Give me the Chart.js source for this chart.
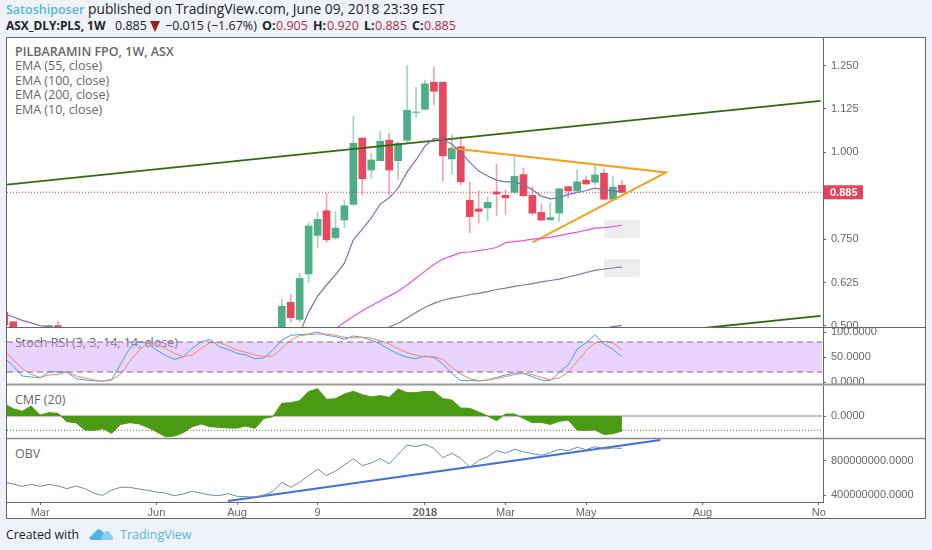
<!DOCTYPE html>
<html>
<head>
<meta charset="utf-8">
<title>PILBARAMIN FPO, 1W, ASX</title>
<script src="https://cdn.jsdelivr.net/npm/chart.js@4"></script>
<style>
  html, body { margin: 0; padding: 0; width: 932px; height: 550px; overflow: hidden; background: #eff3f9; }
  body { font-family: "Open Sans", sans-serif; color: #222; position: relative; }
  .abs { position: absolute; white-space: nowrap; }
  #frame { position: absolute; left: 6px; top: 37px; width: 918px; height: 480px; background: #fff; border: 1px solid #666; }
  #chart { position: absolute; left: 7px; top: 38px; }
  .pane { font-size: 12.5px; color: #666; line-height: 14px; left: 15px; }
  .hd { top: 17px; font-size: 12.5px; line-height: 17px; }
  .num { color: #a8303c; }
  b { font-weight: 700; }
</style>
</head>
<body>
<div class="abs" style="left:6px;top:1px;font-size:12.5px;line-height:18px;color:#55b4e0;font-weight:600">Satoshiposer</div>
<div class="abs" style="left:88px;top:0px;font-size:13.8px;line-height:18px">published on TradingView.com, June 09, 2018 23:39 EST</div>
<div class="abs hd" style="left:6px;font-size:11.9px"><b>ASX_DLY:PLS, 1W</b></div>
<div class="abs hd" style="left:115px">0.885</div>
<div class="abs" style="left:150px;top:21px;width:0;height:0;border-left:5.5px solid transparent;border-right:5.5px solid transparent;border-top:11px solid #a01c1c"></div>
<div class="abs hd" style="left:165px">&#8722;0.015 (&#8722;1.67%)</div>
<div class="abs hd" style="left:262px"><b>O:</b></div>
<div class="abs hd num" style="left:276px">0.905</div>
<div class="abs hd" style="left:313px"><b>H:</b></div>
<div class="abs hd num" style="left:327px">0.920</div>
<div class="abs hd" style="left:364px"><b>L:</b></div>
<div class="abs hd num" style="left:375px">0.885</div>
<div class="abs hd" style="left:412px"><b>C:</b></div>
<div class="abs hd num" style="left:424px">0.885</div>
<div id="frame"></div>
<div class="abs pane" style="top:45px;font-weight:600">PILBARAMIN FPO, 1W, ASX</div>
<div class="abs pane" style="top:59px">EMA (55, close)</div>
<div class="abs pane" style="top:74px">EMA (100, close)</div>
<div class="abs pane" style="top:88px">EMA (200, close)</div>
<div class="abs pane" style="top:103px">EMA (10, close)</div>
<div class="abs pane" style="top:336px">Stoch RSI (3, 3, 14, 14, close)</div>
<div class="abs pane" style="top:393px">CMF (20)</div>
<div class="abs pane" style="top:447px">OBV</div>
<canvas id="chart" width="918" height="480"></canvas>
<div class="abs" style="left:6px;top:526px;font-size:12.3px;line-height:18px">Created with</div>
<svg class="abs" style="left:89px;top:527px" width="25" height="15" viewBox="0 0 25 15">
  <path d="M0 11 L7 4 Q9 1 12 3 L17 8 L14 13 L3 13 Q1 13 0 11Z" fill="#4fb4e4"/>
  <path d="M12 10 L16 5 Q18 3 20 5 L24 10 Q25 13 22 13 L13 13Z" fill="#86d2f2"/>
</svg>
<div class="abs" style="left:120px;top:526px;font-size:12.5px;line-height:18px;color:#55b4e0">TradingView</div>

<script>
// weeks are counted from the first bar of 2018
const xMin = -46.7;
const xMax = 44.47;
const xTickWeeks = [-43, -30, -21, -12, 0, 9, 18, 31, 44];
const xTickLabels = ['Mar', 'Jun', 'Aug', '9', '2018', 'Mar', 'May', 'Aug', 'No'];

const priceTicks = [1.25, 1.125, 1, 0.75, 0.625, 0.5];
const stochTicks = [100, 50, 0];
const cmfTicks = [0];
const obvTicks = [800, 400]; // millions

// only the bars that are visible above the bottom of the price pane
const candleWeeks = [-47, -46, -42, -41, -16, -15, -14, -13, -12, -11, -10, -9, -8, -7, -6, -5, -4, -3, -2, -1, 0, 1, 2, 3, 4, 5, 6, 7, 8, 9, 10, 11, 12, 13, 14, 15, 16, 17, 18, 19, 20, 21, 22];
const opens = [.540, .512, .460, .501, .480, .568, .519, .650, .761, .832, .754, .805, .850, 1.041, .949, .976, 1.035, .976, 1.035, 1.115, 1.124, 1.202, 1.202, .981, 1.016, .862, .837, .840, .886, .876, .885, .936, .876, .827, .806, .825, .901, .889, .920, .914, .940, .865, .905];
const highs = [.560, .512, .503, .514, .578, .591, .652, .797, .828, .882, .828, .863, 1.105, 1.041, .997, 1.061, 1.055, 1.031, 1.250, 1.187, 1.208, 1.247, 1.202, 1.052, 1.045, .915, .889, .872, .966, .892, .987, .955, .901, .851, .856, .896, .903, .949, .930, .963, .951, .932, .920];
const lows = [.490, .450, .450, .460, .470, .512, .511, .625, .725, .740, .750, .783, .848, .877, .925, .976, .877, .922, 1.027, 1.101, 1.122, 1.137, .917, .937, .906, .769, .796, .803, .817, .822, .882, .872, .819, .803, .803, .800, .868, .887, .906, .906, .863, .863, .885];
const closes = [.503, .470, .501, .470, .557, .524, .637, .788, .807, .748, .782, .846, 1.026, .924, .978, 1.032, .949, 1.026, 1.121, 1.116, 1.197, 1.176, .990, 1.012, .915, .815, .830, .856, .880, .869, .931, .875, .825, .805, .812, .895, .889, .915, .909, .935, .865, .900, .885];

const ema10Weeks = [-47, -46, -45, -44, -43, -42, -41, -14, -13, -12, -11, -10, -9, -8, -7, -6, -5, -4, -3, -2, -1, 0, 1, 2, 3, 4, 5, 6, 7, 8, 9, 10, 11, 12, 13, 14, 15, 16, 17, 18, 19, 20, 21, 22];
const ema10 = [.536, .526, .516, .509, .501, .498, .490, .480, .540, .586, .618, .647, .681, .748, .779, .811, .851, .869, .897, .943, .978, 1.018, 1.040, 1.036, 1.024, 1.000, .972, .946, .932, .920, .915, .915, .907, .892, .874, .866, .869, .879, .884, .890, .897, .892, .889, .886];
const ema55Start = -10;
const ema55 = [.492, .511, .527, .544, .558, .572, .586, .600, .618, .638, .658, .677, .693, .702, .711, .713, .717, .721, .726, .740, .743, .746, .750, .752, .755, .760, .765, .770, .776, .782, .783, .786, .790];
const ema100Start = -5;
const ema100 = [.488, .497, .508, .523, .539, .554, .565, .574, .580, .585, .590, .594, .599, .605, .609, .614, .618, .622, .627, .631, .635, .641, .647, .654, .660, .664, .667, .670];
const ema200Start = 20;
const ema200 = [.492, .498, .502];

const lastPrice = .885;
const upperChannelWeeks = [-46.7, 44.2];
const upperChannel = [.907, 1.148];
const lowerChannelWeeks = [30.36, 44.2];
const lowerChannel = [.492, .529];
const triangleWeeks = [3, 26.93, 12];
const triangle = [1.012, .942, .741];
const boxWeeks = [20, 24];
const boxHighs = [.805, .692];
const boxLows = [.754, .640];

const oscStart = -47;
const stochK = [48.7, 32, 12, 10, 8, 20.7, 20, 20, 6.7, 4, 2.7, 1.3, 5.3, 36, 67.3, 81.3, 77.3, 64, 53.3, 45.3, 50.7, 67.3, 80, 85.3, 70.7, 65.3, 57.3, 54, 46.7, 48, 64, 84, 93.3, 94.7, 96, 100,
  93.3, 90.7, 85.3, 92, 89.3, 84, 76, 65.3, 56, 49.3, 46.7, 52, 49.3, 36, 17.3, 2.7, 3.3, 2, 4, 9.3, 14, 18, 17.3, 10.7, 4, 2.7, 18.7, 34, 65.3, 78.7, 94.7, 76, 65.3, 50.7];
const stochD = [64, 44, 27.3, 15.3, 9.3, 14, 15.3, 20, 12, 8, 4, 2, 4, 16, 40.7, 62.7, 77.3, 76, 67.3, 57.3, 50.7, 54, 67.3, 78.7, 78.7, 72, 64, 59.3, 54, 50.7, 52, 67.3, 84, 92.7, 94.7, 96,
  96, 93.3, 89.3, 88, 89.3, 88, 82.7, 76, 66.7, 58.7, 53.3, 50.7, 50.7, 45.3, 29.3, 16, 6.7, 2.7, 4, 6.7, 10.7, 14.7, 17.3, 14.7, 9.3, 4.7, 8, 20, 40.7, 62.7, 78.7, 81.3, 78.7, 64];
const cmf = [.126, .077, .049, .105, .011, .035, .028, -.060, -.070, -.147, -.151, -.133, -.182, -.088, -.070, -.081, -.119, -.165, -.217, -.210, -.175, -.112, -.084, -.112, -.119, -.126, -.126, -.105, -.130, -.025, -.007, .133, .140, .161, .256, .287,
  .175, .182, .231, .259, .224, .200, .214, .196, .284, .245, .245, .259, .256, .182, .168, .084, .081, .042, 0, -.049, .021, .021, -.025, -.070, -.067, -.088, -.056, -.042, -.147, -.151, -.147, -.193, -.186, -.158];
const obv = [552, 528, 501, 524, 501, 524, 505, 474, 505, 474, 420, 396, 458, 490, 490, 470, 455, 435, 423, 392, 412, 443, 420, 400, 392, 416, 385, 381, 373, 400, 439, 548, 490, 548, 626, 703,
  626, 680, 750, 824, 742, 773, 824, 765, 874, 983, 964, 991, 944, 835, 886, 828, 723, 804, 847, 917, 886, 933, 905, 882, 863, 894, 933, 917, 956, 929, 964, 936, 948, 944];
const obvTrendWeeks = [-22, 26.3];
const obvTrend = [330, 1041];
const stochBand = [20, 80];
const cmfLevel = -.15;

const upColor = '#4caf87';
const downColor = '#e8475c';

const series = (start, values) => values.map((y, i) => ({ x: start + i, y }));
const pairs = (xs, ys) => xs.map((x, i) => ({ x, y: ys[i] }));

function line(label, data, yAxisID, color, width, extra) {
  return Object.assign({
    type: 'line', label, data, yAxisID, borderColor: color, borderWidth: width,
    pointRadius: 0, tension: 0, fill: false, clip: 0, order: 2
  }, extra || {});
}

function isUp(i) { return closes[i] >= opens[i]; }

const wicks = {
  type: 'bar', label: 'wick', yAxisID: 'price', barThickness: 1, grouped: false, clip: 0, order: 5,
  data: candleWeeks.map((x, i) => ({ x, y: [lows[i], highs[i]] })),
  backgroundColor: candleWeeks.map((x, i) => isUp(i) ? '#9fd6bc' : '#f2a3ae')
};
const bodies = {
  type: 'bar', label: 'body', yAxisID: 'price', barThickness: 7, grouped: false, clip: 0, order: 4,
  data: candleWeeks.map((x, i) => ({ x, y: [opens[i], closes[i]] })),
  backgroundColor: candleWeeks.map((x, i) => isUp(i) ? upColor : downColor)
};

const datasets = [
  wicks, bodies,
  line('Last', pairs([xMin, xMax], [lastPrice, lastPrice]), 'price', '#e0304c', 1, { borderDash: [1, 2], order: 3 }),
  line('EMA 10', pairs(ema10Weeks, ema10), 'price', '#7d70b8', 1.2),
  line('EMA 55', series(ema55Start, ema55), 'price', '#e84fe8', 1.2),
  line('EMA 100', series(ema100Start, ema100), 'price', '#8272b4', 1.2),
  line('EMA 200', series(ema200Start, ema200), 'price', '#7d70b8', 1.2),
  line('Upper channel', pairs(upperChannelWeeks, upperChannel), 'price', '#2f6a12', 1.8),
  line('Lower channel', pairs(lowerChannelWeeks, lowerChannel), 'price', '#2f6a12', 1.8),
  line('Triangle', pairs(triangleWeeks, triangle), 'price', '#f5a11f', 2),

  line('Stoch high', pairs([xMin, xMax - 0.1], [stochBand[1], stochBand[1]]), 'stoch', '#7b6a8c', 1, { borderDash: [6, 4] }),
  line('Stoch low', pairs([xMin, xMax - 0.1], [stochBand[0], stochBand[0]]), 'stoch', '#7b6a8c', 1, { borderDash: [6, 4] }),
  line('%D', series(oscStart, stochD), 'stoch', '#ec8a5c', 1),
  line('%K', series(oscStart, stochK), 'stoch', '#4a9bee', 1),

  line('CMF', series(oscStart, cmf), 'cmf', '#4a9a14', 1, { fill: { value: 0 }, backgroundColor: '#4a9a14' }),
  line('CMF zero', pairs([xMin, xMax - 0.1], [0, 0]), 'cmf', '#8a8a8a', 1.2),
  line('CMF level', pairs([xMin, xMax - 0.1], [cmfLevel, cmfLevel]), 'cmf', '#3a8a1a', 1, { borderDash: [1, 2] }),

  line('OBV', series(oscStart, obv), 'obv', '#7488a8', 1),
  line('OBV trend', pairs(obvTrendWeeks, obvTrend), 'obv', '#3d72d8', 2)
];

// grey note boxes and the lilac stoch band sit behind the marks
const backdrops = {
  id: 'backdrops',
  beforeDatasetsDraw(chart) {
    const { ctx, scales } = chart;
    ctx.save();
    ctx.fillStyle = '#ededed';
    boxHighs.forEach((hi, i) => {
      const left = scales.x.getPixelForValue(boxWeeks[0]);
      const right = scales.x.getPixelForValue(boxWeeks[1]);
      const top = scales.price.getPixelForValue(hi);
      ctx.fillRect(left, top, right - left, scales.price.getPixelForValue(boxLows[i]) - top);
    });
    ctx.fillStyle = 'rgba(205,160,250,0.45)';
    const bandTop = scales.stoch.getPixelForValue(stochBand[1]);
    ctx.fillRect(scales.x.left, bandTop, scales.x.width - 1, scales.stoch.getPixelForValue(stochBand[0]) - bandTop);
    ctx.restore();
  }
};

// pane separators and the last price tag
const overlays = {
  id: 'overlays',
  afterDraw(chart) {
    const { ctx, scales, width } = chart;
    ctx.save();
    [['price', '#666', 1], ['stoch', '#999', 2], ['cmf', '#888', 1.5]].forEach(([id, color, w]) => {
      ctx.strokeStyle = color;
      ctx.lineWidth = w;
      ctx.beginPath();
      ctx.moveTo(0, Math.round(scales[id].bottom) - 0.5);
      ctx.lineTo(width, Math.round(scales[id].bottom) - 0.5);
      ctx.stroke();
    });
    const y = scales.price.getPixelForValue(lastPrice);
    ctx.fillStyle = '#e8415c';
    ctx.fillRect(scales.price.left + 1, y - 7, 39, 14);
    ctx.fillStyle = '#fff';
    ctx.font = 'bold 11px "Liberation Sans"';
    ctx.textBaseline = 'middle';
    ctx.fillText(lastPrice.toFixed(3), scales.price.left + 7, y + 0.5);
    ctx.restore();
  }
};

function yScale(weight, min, max, tickValues, format) {
  return {
    type: 'linear', position: 'right', stack: 'panes', stackWeight: weight, min, max,
    afterBuildTicks: s => { s.ticks = tickValues.map(value => ({ value })); },
    afterFit: s => { s.width = 102; s.paddingTop = 0; s.paddingBottom = 0; },
    grid: { drawOnChartArea: false, color: '#666', tickLength: 3 },
    border: { color: '#666', width: 1 },
    ticks: { autoSkip: false, padding: 5, color: '#666', font: { family: 'Liberation Sans', size: 11 }, callback: format }
  };
}

new Chart(document.getElementById('chart').getContext('2d'), {
  type: 'bar',
  data: { datasets },
  plugins: [backdrops, overlays],
  options: {
    responsive: false,
    animation: false,
    devicePixelRatio: 1,
    layout: { padding: 0, autoPadding: false },
    plugins: { legend: { display: false }, tooltip: { enabled: false } },
    scales: {
      x: {
        type: 'linear', min: xMin, max: xMax, offset: false,
        afterBuildTicks: s => { s.ticks = xTickWeeks.map(value => ({ value })); },
        afterFit: s => { s.height = 16; s.paddingLeft = 0; s.paddingRight = 0; },
        grid: { offset: false, drawOnChartArea: false, color: '#666', tickLength: 3 },
        border: { color: '#666', width: 1 },
        ticks: {
          autoSkip: false, maxRotation: 0, padding: 1, color: '#666',
          font: ctx => ({ family: 'Liberation Sans', size: 11, weight: ctx.tick && ctx.tick.value === 0 ? 'bold' : 'normal' }),
          callback: value => xTickLabels[xTickWeeks.indexOf(value)]
        }
      },
      price: yScale(290, 0.4942, 1.3292, priceTicks, v => v.toFixed(3)),
      stoch: yScale(57, -6, 108, stochTicks, v => v.toFixed(4)),
      cmf: yScale(54, -0.2415, 0.3255, cmfTicks, v => v.toFixed(4)),
      obv: yScale(63, 318.4, 1053, obvTicks, v => (v * 1e6).toFixed(4))
    }
  }
});
</script>
</body>
</html>
